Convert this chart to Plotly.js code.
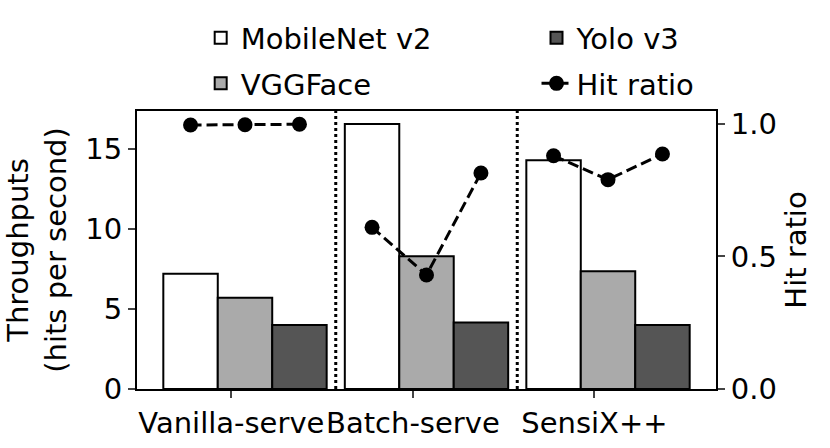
<!DOCTYPE html>
<html>
<head>
<meta charset="utf-8">
<script src="https://cdn.plot.ly/plotly-3.0.1.min.js"></script>
<style>
  html, body { margin: 0; padding: 0; background: #fff; }
  #chart { width: 830px; height: 448px; }
</style>
</head>
<body>
<div id="chart"></div>
<script>
// serving schemes (groups on the x axis)
const groups = ["Vanilla-serve", "Batch-serve", "SensiX++"];
const models = ["MobileNet v2", "VGGFace", "Yolo v3"];

// throughput, hits per second
const mobilenet = [7.2, 16.55, 14.3];
const vggface = [5.7, 8.3, 7.35];
const yolo = [4.0, 4.15, 4.0];

// hit ratio per group, one value per model
const hitVanilla = [0.996, 0.997, 0.999];
const hitBatch = [0.61, 0.43, 0.815];
const hitSensix = [0.88, 0.79, 0.887];

const barColors = ["#ffffff", "#aaaaaa", "#555555"];
const font = "DejaVu Sans, sans-serif";
const fs = 29;

let groupX = groups.map((g, i) => i);
let barW = 0.3;

let series = [mobilenet, vggface, yolo];
let legendOf = ["legend", "legend", "legend2"];
let traces = [];
for (let m = 0; m < models.length; m++) {
  traces.push({
    type: "bar",
    x: groupX,
    y: series[m],
    name: models[m],
    legend: legendOf[m],
    legendgroup: models[m],
    width: barW,
    marker: { color: barColors[m], line: { color: "#000", width: 2 } },
  });
}

// hit ratio line, broken between groups
let hits = [hitVanilla, hitBatch, hitSensix];
let hx = [];
let hy = [];
for (let i = 0; i < hits.length; i++) {
  for (let j = 0; j < hits[i].length; j++) {
    hx.push(groupX[i] + (j - 1) * barW);
    hy.push(hits[i][j]);
  }
  hx.push(null);
  hy.push(null);
}
traces.push({
  type: "scatter",
  x: hx,
  y: hy,
  yaxis: "y2",
  name: "Hit ratio",
  legend: "legend2",
  legendgroup: "hit",
  mode: "lines+markers",
  connectgaps: false,
  line: { color: "#000", width: 3, dash: "11px,5px" },
  marker: { color: "#000", size: 15, symbol: "circle" },
});

let layout = {
  width: 830,
  height: 448,
  margin: { l: 137, r: 114, t: 111, b: 59 },
  paper_bgcolor: "#fff",
  plot_bgcolor: "#fff",
  font: { family: font, size: fs, color: "#000" },
  barmode: "group",
  bargap: 0.1,
  showlegend: true,
  xaxis: {
    range: [-0.595, 2.595],
    tickmode: "array",
    tickvals: groupX.map((x) => x - 0.075),
    ticktext: groups,
    tickangle: 0,
    ticks: "outside",
    ticklen: 7,
    tickwidth: 1.5,
    showline: true,
    linecolor: "#000",
    linewidth: 2,
    mirror: true,
    showgrid: false,
    zeroline: false,
    tickfont: { size: fs },
  },
  yaxis: {
    range: [0, 17.37],
    tickvals: [0, 5, 10, 15],
    ticks: "outside",
    ticklen: 7,
    tickwidth: 1.5,
    showline: true,
    linecolor: "#000",
    linewidth: 2,
    showgrid: false,
    zeroline: false,
    tickfont: { size: fs },
    title: { text: "Throughputs<br>(hits per second)", font: { size: fs }, standoff: 10 },
  },
  yaxis2: {
    overlaying: "y",
    side: "right",
    range: [0, 1.049],
    tickvals: [0, 0.5, 1.0],
    ticktext: ["0.0", "0.5", "1.0"],
    ticks: "outside",
    ticklen: 7,
    tickwidth: 1.5,
    showline: true,
    linecolor: "#000",
    linewidth: 2,
    showgrid: false,
    zeroline: false,
    tickfont: { size: fs },
    title: { text: "Hit ratio", font: { size: fs }, standoff: 10 },
  },
  legend: {
    x: 0.11,
    y: 1.355,
    xanchor: "left",
    yanchor: "top",
    bgcolor: "rgba(0,0,0,0)",
    font: { size: fs },
    traceorder: "grouped",
    tracegroupgap: 5,
  },
  legend2: {
    x: 0.69,
    y: 1.355,
    xanchor: "left",
    yanchor: "top",
    bgcolor: "rgba(0,0,0,0)",
    font: { size: fs },
    traceorder: "grouped",
    tracegroupgap: 5,
  },
  shapes: [0.5, 1.5].map((x) => ({
    type: "line",
    xref: "x",
    yref: "paper",
    x0: x,
    x1: x,
    y0: 0,
    y1: 1,
    line: { color: "#000", width: 3, dash: "3px,3px" },
  })),
};

Plotly.newPlot("chart", traces, layout, { displayModeBar: false });
</script>
</body>
</html>
